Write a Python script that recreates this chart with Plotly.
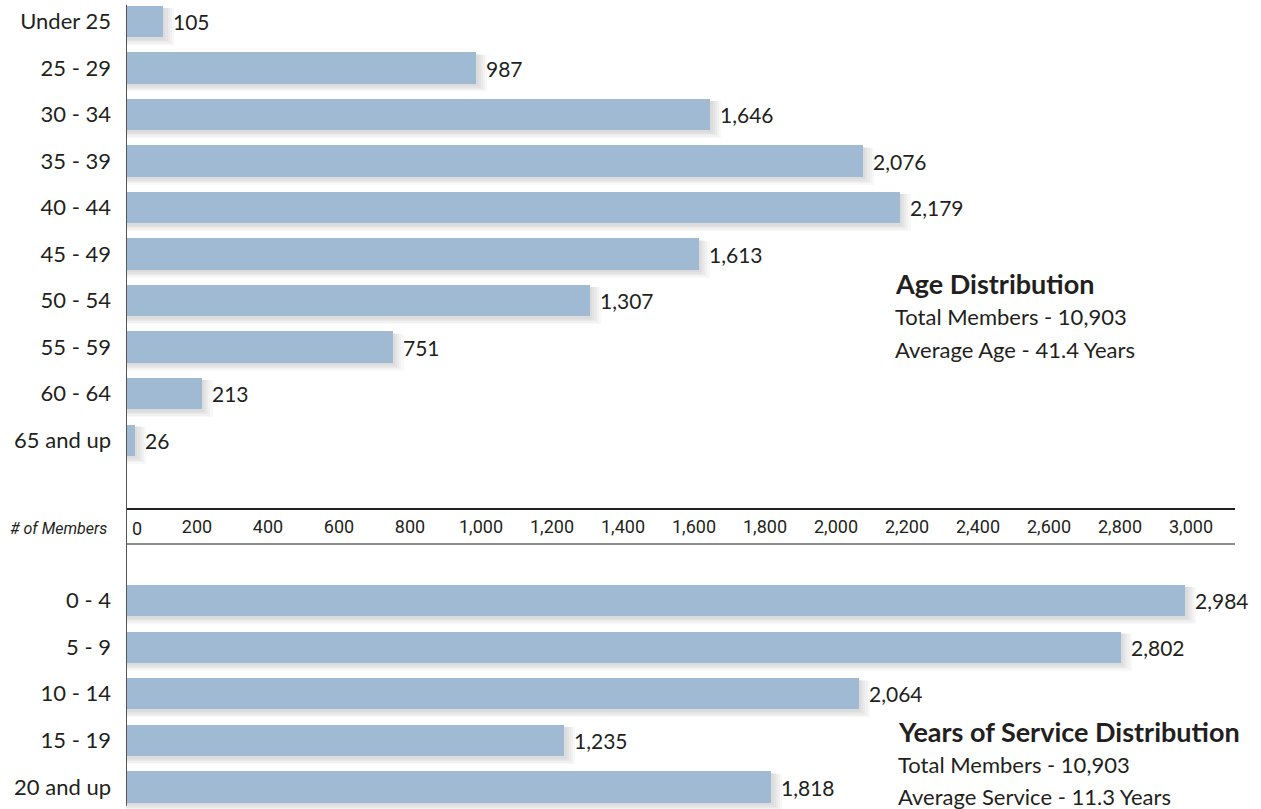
import plotly.graph_objects as go

# ---- data ----
age_groups = ["Under 25", "25 - 29", "30 - 34", "35 - 39", "40 - 44",
              "45 - 49", "50 - 54", "55 - 59", "60 - 64", "65 and up"]
age_counts = [105, 987, 1646, 2076, 2179, 1613, 1307, 751, 213, 26]

service_groups = ["0 - 4", "5 - 9", "10 - 14", "15 - 19", "20 and up"]
service_counts = [2984, 2802, 2064, 1235, 1818]

tick_values = [200, 400, 600, 800, 1000, 1200, 1400, 1600, 1800, 2000,
               2200, 2400, 2600, 2800, 3000]
tick_labels = ["200", "400", "600", "800", "1,000", "1,200", "1,400", "1,600",
               "1,800", "2,000", "2,200", "2,400", "2,600", "2,800", "3,000"]
zero_label = "0"
axis_title = "# of Members"

age_title = "Age Distribution"
age_lines = ["Total Members - 10,903", "Average Age - 41.4 Years"]
service_title = "Years of Service Distribution"
service_lines = ["Total Members - 10,903", "Average Service - 11.3 Years"]

# ---- style ----
BAR = "#9fbad2"
TXT = "#231f20"
FONT = "Lato, 'Open Sans', sans-serif"
COND = "Roboto, sans-serif"
BW = 0.67

W, H = 1261, 809
L, R = 126, 26
SCALE = 0.355  # px per member

fig = go.Figure()


def add_bars(cats, vals, xa, ya):
    # soft drop shadow layers (below / right of each bar)
    for k in range(1, 6):
        fig.add_trace(go.Bar(
            y=cats, x=[v + 2.2 * k / SCALE for v in vals], orientation="h",
            width=BW + 0.024 * k, offset=-BW / 2 + 0.03 + 0.004 * k,
            marker=dict(color="rgba(40,40,40,0.032)", line=dict(width=0)),
            xaxis=xa, yaxis=ya, hoverinfo="skip", showlegend=False))
    fig.add_trace(go.Bar(
        y=cats, x=vals, orientation="h", width=BW, offset=-BW / 2,
        marker=dict(color=BAR, line=dict(width=0)),
        xaxis=xa, yaxis=ya, showlegend=False))


add_bars(age_groups, age_counts, "x", "y")
add_bars(service_groups, service_counts, "x2", "y2")

annotations = []
for cats, vals, xr, yr in [(age_groups, age_counts, "x", "y"),
                           (service_groups, service_counts, "x2", "y2")]:
    for c, v in zip(cats, vals):
        annotations.append(dict(
            x=v, y=c, xref=xr, yref=yr, text=f"{v:,}", showarrow=False,
            xanchor="left", yanchor="middle", xshift=8,
            font=dict(family=FONT, size=21, color=TXT)))

mid_y = (H - 528) / H
annotations.append(dict(x=0, y=mid_y, xref="x", yref="paper", text=zero_label,
                        showarrow=False, xanchor="center", yanchor="middle",
                        xshift=11, font=dict(family=COND, size=18, color=TXT)))
annotations.append(dict(x=0, y=mid_y, xref="paper", yref="paper",
                        text=f"<i>{axis_title}</i>", showarrow=False,
                        xanchor="right", yanchor="middle", xshift=-17,
                        font=dict(family=COND, size=16, color=TXT)))


def px_x(p):
    return (p - L) / (W - L - R)


def px_y(p):
    return (H - p) / H


for title, lines, x0, ys in [(age_title, age_lines, 895, (283, 316, 349)),
                             (service_title, service_lines, 898, (731, 764, 796))]:
    annotations.append(dict(x=px_x(x0), y=px_y(ys[0]), xref="paper", yref="paper",
                            text=f"<b>{title}</b>", showarrow=False,
                            xanchor="left", yanchor="middle", xshift=-2,
                            font=dict(family=FONT, size=27, color=TXT)))
    for ln, yy in zip(lines, ys[1:]):
        annotations.append(dict(x=px_x(x0), y=px_y(yy), xref="paper", yref="paper",
                                text=ln, showarrow=False,
                                xanchor="left", yanchor="middle", xshift=-2,
                                font=dict(family=FONT, size=22, color=TXT)))

xmax = (W - L - R) / SCALE

top_dom = [(H - 508) / H, 1]
bot_dom = [0, (H - 545) / H]

fig.update_layout(
    width=W, height=H, margin=dict(l=L, r=R, t=0, b=0),
    paper_bgcolor="white", plot_bgcolor="white",
    barmode="overlay", bargap=0,
    annotations=annotations,
    shapes=[dict(type="line", xref="x", yref="paper", x0=0, x1=0, y0=0.004, y1=0.994,
                 line=dict(color="#555555", width=2), layer="above")],
    xaxis=dict(range=[0, xmax], domain=[0, 1], anchor="y", side="bottom",
               showline=True, linecolor=TXT, linewidth=1.5,
               showgrid=False, zeroline=False, ticks="",
               tickvals=tick_values, ticktext=tick_labels, ticklabelstandoff=2,
               tickfont=dict(family=COND, size=18, color=TXT)),
    xaxis2=dict(range=[0, xmax], domain=[0, 1], anchor="y2", side="top",
                showline=True, linecolor="#8c8c8c", linewidth=1.5,
                showgrid=False, zeroline=False, ticks="", showticklabels=False),
    yaxis=dict(domain=top_dom, type="category", categoryarray=age_groups,
               categoryorder="array", range=[10.46, -0.462],
               showline=False, showgrid=False, zeroline=False, ticks="",
               ticklabelstandoff=14,
               tickfont=dict(family=FONT, size=22, color=TXT)),
    yaxis2=dict(domain=bot_dom, type="category", categoryarray=service_groups,
                categoryorder="array", range=[4.47, -1.19],
                showline=False, showgrid=False, zeroline=False, ticks="",
                ticklabelstandoff=14,
                tickfont=dict(family=FONT, size=22, color=TXT)),
)

fig.write_html(
    "out.html",
    config={"displayModeBar": False},
    post_script="document.body.style.margin='0';document.body.style.overflow='hidden';",
)
